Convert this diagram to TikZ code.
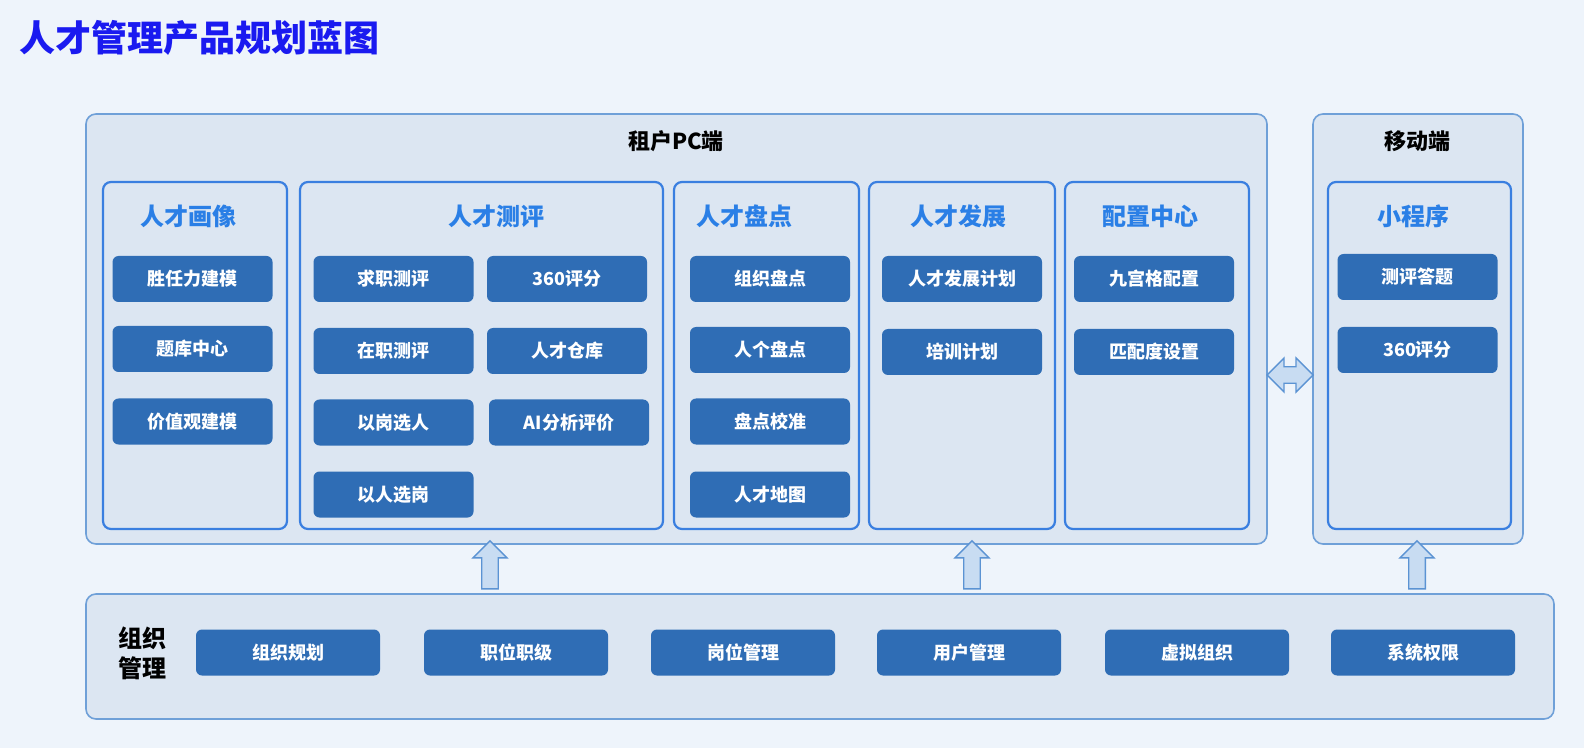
\documentclass[tikz,border=0pt]{standalone}
\usepackage{fontspec}
\setmainfont{Noto Sans CJK SC}
\usetikzlibrary{shapes.arrows,fit}
\definecolor{bg}{HTML}{EEF4FB}
\definecolor{panel}{HTML}{DCE6F2}
\definecolor{pborder}{HTML}{6FA0D8}
\definecolor{cborder}{HTML}{3A7FE0}
\definecolor{btn}{HTML}{2F6DB5}
\definecolor{ctitle}{HTML}{2A7FE6}
\definecolor{ttl}{HTML}{1A1AF0}
\definecolor{arf}{HTML}{C8DCF2}
\definecolor{ard}{HTML}{5B93D3}
\begin{document}
\begin{tikzpicture}[x=0.5pt,y=-0.5pt,
 frame/.style={draw=pborder,line width=0.8pt,fill=panel,rounded corners=5pt,inner sep=0pt,outer sep=0pt},
 col/.style={draw=cborder,line width=1.1pt,fill=panel,rounded corners=4pt,inner sep=0pt,outer sep=0pt},
 btn/.style={fill=btn,rounded corners=3pt,text=white,font=\bfseries\fontsize{9}{10}\selectfont,minimum height=23pt,minimum width=80pt,inner sep=0pt},
 wbtn/.style={btn,minimum width=92pt},
 ctl/.style={text=ctitle,font=\bfseries\fontsize{12}{14}\selectfont},
 hdr/.style={font=\bfseries\fontsize{11}{13}\selectfont},
 uparrow/.style={single arrow,draw=ard,fill=arf,line width=0.7pt,shape border rotate=90,minimum height=24pt,minimum width=17pt,single arrow head extend=3pt,inner sep=2.5pt}]
\useasboundingbox (0,0) rectangle (1584,748);
\fill[bg] (0,0) rectangle (1584,748);
\node[anchor=west,text=ttl,font=\bfseries\fontsize{18}{20}\selectfont] (title) at (12,38) {人才管理产品规划蓝图};
% frames
\node[frame,fit={(86,114) (1267,544)}] (pc) {};
\node[hdr] (pct) at (676,141) {租户PC端};
\node[frame,fit={(1313,114) (1523,544)}] (mob) {};
\node[hdr] (mobt) at (1417,141) {移动端};
\node[frame,fit={(86,594) (1554,719)}] (org) {};
% columns
\node[col,fit={(103,182) (287,529)}] (c1) {};
\node[col,fit={(300,182) (663,529)}] (c2) {};
\node[col,fit={(674,182) (859,529)}] (c3) {};
\node[col,fit={(869,182) (1055,529)}] (c4) {};
\node[col,fit={(1065,182) (1249,529)}] (c5) {};
\node[col,fit={(1328,182) (1511,529)}] (c6) {};
\node[ctl] (t1) at (188,216) {人才画像};
\node[ctl] (t2) at (496,216) {人才测评};
\node[ctl] (t3) at (744,216) {人才盘点};
\node[ctl] (t4) at (958,216) {人才发展};
\node[ctl] (t5) at (1150,216) {配置中心};
\node[ctl] (t6) at (1413,216) {小程序};
% buttons
\node[btn] (b11) at (192.5,279) {胜任力建模};
\node[btn] (b12) at (192.5,349) {题库中心};
\node[btn] (b13) at (192.5,421.5) {价值观建模};
\node[btn] (b21) at (393.5,279) {求职测评};
\node[btn] (b22) at (567,279) {360评分};
\node[btn] (b23) at (393.5,351) {在职测评};
\node[btn] (b24) at (567,351) {人才仓库};
\node[btn] (b25) at (393.5,422.5) {以岗选人};
\node[btn] (b26) at (569,422.5) {AI分析评价};
\node[btn] (b27) at (393.5,494.5) {以人选岗};
\node[btn] (b31) at (770,279) {组织盘点};
\node[btn] (b32) at (770,350) {人个盘点};
\node[btn] (b33) at (770,421.5) {盘点校准};
\node[btn] (b34) at (770,494.5) {人才地图};
\node[btn] (b41) at (962,279) {人才发展计划};
\node[btn] (b42) at (962,352) {培训计划};
\node[btn] (b51) at (1154,279) {九宫格配置};
\node[btn] (b52) at (1154,352) {匹配度设置};
\node[btn] (b61) at (1417.5,277) {测评答题};
\node[btn] (b62) at (1417.5,350) {360评分};
% org
\node[font=\bfseries\fontsize{12}{15}\selectfont,align=left] (orgt) at (142,653) {组织\\管理};
\node[wbtn] (o1) at (288,652.5) {组织规划};
\node[wbtn] (o2) at (516,652.5) {职位职级};
\node[wbtn] (o3) at (743,652.5) {岗位管理};
\node[wbtn] (o4) at (969,652.5) {用户管理};
\node[wbtn] (o5) at (1197,652.5) {虚拟组织};
\node[wbtn] (o6) at (1423,652.5) {系统权限};
% arrows
\node[uparrow] (a1) at (490,569) {};
\node[uparrow] (a2) at (972,569) {};
\node[uparrow] (a3) at (1417,569) {};
\node[double arrow,draw=ard,fill=arf,line width=0.7pt,minimum height=23pt,minimum width=17pt,double arrow head extend=3pt,inner sep=2.5pt] (da) at (1290,375) {};
\end{tikzpicture}
\end{document}
